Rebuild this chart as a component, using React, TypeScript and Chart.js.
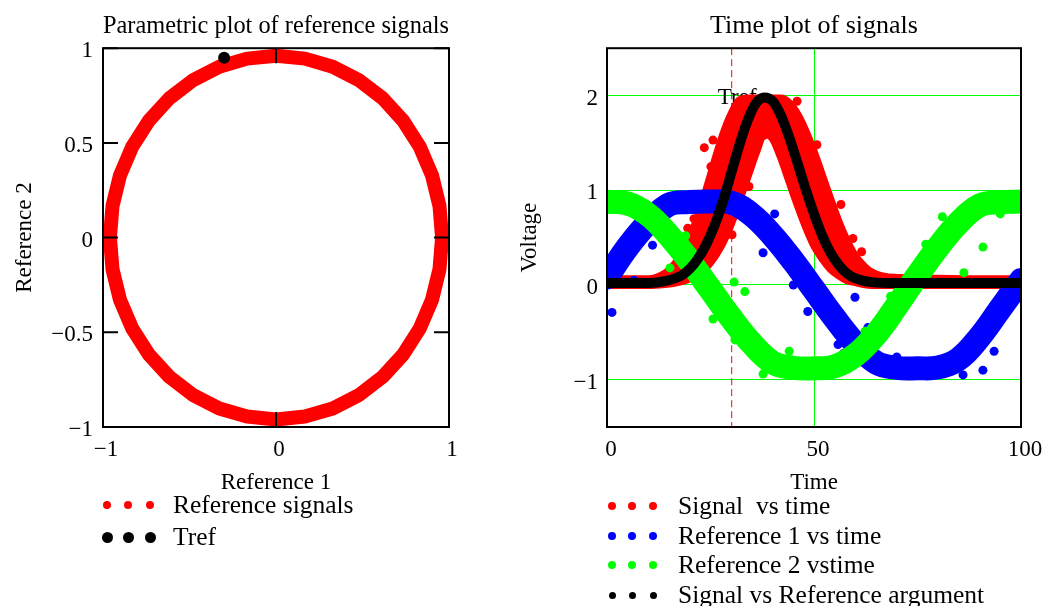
import React, { useEffect, useRef } from 'react';
import { Chart, registerables } from 'chart.js';
Chart.register(...registerables);

const FONT = '"Liberation Serif", "Times New Roman", serif';

// ---------- Left chart: parametric plot ----------
const reference1Ring = [0.96, 0.945, 0.902, 0.831, 0.735, 0.617, 0.48, 0.328, 0.167, 0, -0.167, -0.328, -0.48, -0.617, -0.735, -0.831, -0.902, -0.945, -0.96, -0.945, -0.902, -0.831, -0.735, -0.617, -0.48, -0.328, -0.167, 0, 0.167, 0.328, 0.48, 0.617, 0.735, 0.831, 0.902, 0.945, 0.96];
const reference2Ring = [0, 0.167, 0.328, 0.48, 0.617, 0.735, 0.831, 0.902, 0.945, 0.96, 0.945, 0.902, 0.831, 0.735, 0.617, 0.48, 0.328, 0.167, 0, -0.167, -0.328, -0.48, -0.617, -0.735, -0.831, -0.902, -0.945, -0.96, -0.945, -0.902, -0.831, -0.735, -0.617, -0.48, -0.328, -0.167, 0];
const trefRef1 = [-0.3];
const trefRef2 = [0.95];
const leftXTicks = [-1, 0, 1];
const leftYTicks = [-1, -0.5, 0, 0.5, 1];

// ---------- Right chart: time plot ----------
const refTime = [0, 5, 10, 15, 20, 25, 30, 35, 40, 45, 50, 55, 60, 65, 70, 75, 80, 85, 90, 95, 100];
const reference1Values = [0.08, 0.4, 0.66, 0.85, 0.875, 0.88, 0.87, 0.74, 0.52, 0.25, -0.05, -0.35, -0.62, -0.82, -0.875, -0.88, -0.87, -0.78, -0.55, -0.25, 0.05];
const reference2Values = [0.88, 0.86, 0.74, 0.52, 0.25, -0.05, -0.35, -0.62, -0.82, -0.875, -0.88, -0.86, -0.74, -0.52, -0.22, 0.1, 0.4, 0.66, 0.84, 0.875, 0.88];

const reference1OutlierTime = [55.8, 57.2, 70, 90.8, 59.9, 1.2, 37.7, 45, 97.8, 6.5, 11, 40.5, 63, 86, 93.5, 48.5];
const reference1OutlierValues = [-0.63, -0.72, -0.76, -0.9, -0.13, -0.29, 0.34, 0.0, 0.03, 0.05, 0.42, 0.75, -0.45, -0.95, -0.7, -0.28];
const reference2OutlierTime = [77, 90.8, 86.2, 74.6, 33.3, 30.7, 15.2, 25.6, 30.9, 37.7, 56.5, 62.3, 8, 19, 44, 68.5, 81, 95];
const reference2OutlierValues = [0.43, 0.4, 0.13, 0.2, -0.07, 0.03, 0.18, -0.36, -0.58, -0.94, -0.79, -0.49, 0.72, 0.52, -0.7, -0.12, 0.72, 0.75];

const signalTime = [0, 10, 14, 16, 18, 20, 22, 24, 26, 28, 30, 32, 34, 36, 38, 40, 42, 44, 46, 48, 50, 52, 54, 56, 58, 60, 62, 64, 68, 100];
const signalUpper = [0.06, 0.06, 0.12, 0.2, 0.32, 0.5, 0.72, 1.0, 1.3, 1.58, 1.8, 1.95, 1.97, 1.97, 1.97, 1.97, 1.97, 1.92, 1.8, 1.62, 1.4, 1.15, 0.9, 0.66, 0.46, 0.3, 0.2, 0.13, 0.08, 0.06];
const signalLower = [0.0, 0.0, 0.01, 0.02, 0.04, 0.07, 0.12, 0.19, 0.3, 0.45, 0.65, 0.9, 1.15, 1.4, 1.6, 1.55, 1.35, 1.1, 0.85, 0.62, 0.42, 0.28, 0.17, 0.1, 0.05, 0.03, 0.01, 0.0, 0.0, 0.0];
const signalOutlierTime = [25.6, 25.1, 34.3, 30.2, 59.4, 54.6, 50.7, 45.9, 41.8, 37.9, 19.5, 21.0, 23.5, 56.5, 61.5];
const signalOutlierValues = [1.53, 1.25, 1.04, 0.53, 0.49, 0.67, 1.48, 1.94, 1.6, 1.58, 0.6, 0.7, 1.45, 0.85, 0.35];

const signalRefTime = [0, 10, 14, 18, 20, 22, 24, 26, 28, 30, 32, 34, 36, 38, 40, 42, 44, 46, 48, 50, 52, 54, 56, 58, 60, 64, 70, 100];
const signalRefValues = [0.02, 0.02, 0.04, 0.1, 0.17, 0.28, 0.43, 0.63, 0.88, 1.18, 1.48, 1.74, 1.92, 1.98, 1.94, 1.79, 1.56, 1.29, 1.01, 0.75, 0.52, 0.34, 0.21, 0.12, 0.07, 0.03, 0.02, 0.02];

const trefTime = 30;
const rightXTicks = [0, 50, 100];
const rightYTicks = [-1, 0, 1, 2];

const pts = (xs: number[], ys: number[]) => xs.map((x, i) => ({ x, y: ys[i] }));
const fmt = (v: number) => (v < 0 ? '\u2212' + String(Math.abs(v)) : String(v));

const TICK_SIZE = 23;
const TITLE_SIZE = 26;
const AXIS_TITLE_SIZE = 23;

function framePlugin(innerTicks: boolean, xt: number[], yt: number[]) {
  return {
    id: 'frame',
    afterDatasetsDraw(chart: any) {
      const { ctx, chartArea: a, scales } = chart;
      ctx.save();
      ctx.strokeStyle = '#000';
      ctx.lineWidth = 2;
      ctx.strokeRect(a.left, a.top, a.right - a.left, a.bottom - a.top);
      if (innerTicks) {
        const L = 15;
        ctx.beginPath();
        xt.forEach((v) => {
          const px = scales.x.getPixelForValue(v);
          ctx.moveTo(px, a.top); ctx.lineTo(px, a.top + L);
          ctx.moveTo(px, a.bottom); ctx.lineTo(px, a.bottom - L);
        });
        yt.forEach((v) => {
          const py = scales.y.getPixelForValue(v);
          ctx.moveTo(a.left, py); ctx.lineTo(a.left + L, py);
          ctx.moveTo(a.right, py); ctx.lineTo(a.right - L, py);
        });
        ctx.stroke();
      }
      ctx.restore();
    },
  };
}

const trefPlugin = {
  id: 'trefMarker',
  beforeDatasetsDraw(chart: any) {
    const { ctx, chartArea: a, scales } = chart;
    const x = scales.x.getPixelForValue(trefTime);
    ctx.save();
    ctx.strokeStyle = '#ff0000';
    ctx.lineWidth = 1;
    ctx.setLineDash([7, 4]);
    ctx.beginPath();
    ctx.moveTo(x + 0.5, a.top);
    ctx.lineTo(x + 0.5, a.bottom);
    ctx.stroke();
    ctx.setLineDash([]);
    ctx.fillStyle = '#000';
    ctx.font = `${TICK_SIZE}px ${FONT}`;
    ctx.textAlign = 'center';
    ctx.textBaseline = 'middle';
    ctx.fillText('Tref', x + 6, scales.y.getPixelForValue(2) + 2);
    ctx.restore();
  },
};

function makeTicks(values: number[]) {
  return (scale: any) => {
    scale.ticks = values.map((v) => ({ value: v }));
  };
}

function leftConfig(): any {
  return {
    type: 'line',
    data: {
      datasets: [
        {
          label: 'Tref',
          data: pts(trefRef1, trefRef2),
          showLine: false,
          pointRadius: 6,
          pointBackgroundColor: '#000',
          pointBorderWidth: 0,
          order: 0,
          clip: 0,
        },
        {
          label: 'Reference signals',
          data: pts(reference1Ring, reference2Ring),
          borderColor: '#ff0000',
          borderWidth: 14,
          borderJoinStyle: 'round',
          borderCapStyle: 'round',
          pointRadius: 0,
          tension: 0,
          order: 1,
          clip: 0,
        },
      ],
    },
    options: {
      animation: false,
      responsive: true,
      maintainAspectRatio: false,
      layout: { padding: { left: 0, right: 51, top: 0, bottom: 0 } },
      plugins: {
        legend: { display: false },
        tooltip: { enabled: false },
        title: {
          display: true,
          fullSize: false,
          text: 'Parametric plot of reference signals',
          color: '#000',
          font: { family: FONT, size: TITLE_SIZE, weight: 'normal' },
          padding: { top: 11, bottom: 6 },
        },
      },
      scales: {
        x: {
          type: 'linear',
          min: -1,
          max: 1,
          afterBuildTicks: makeTicks(leftXTicks),
          afterFit: (s: any) => { s.height = 73; },
          grid: { display: false, drawTicks: false },
          border: { display: false },
          ticks: { callback: fmt, color: '#000', font: { family: FONT, size: TICK_SIZE }, padding: 9, maxRotation: 0, autoSkip: false, labelOffset: 3 },
          title: { display: true, text: 'Reference 1', color: '#000', font: { family: FONT, size: AXIS_TITLE_SIZE }, padding: { top: 0, bottom: 3 } },
        },
        y: {
          type: 'linear',
          min: -1,
          max: 1,
          afterBuildTicks: makeTicks(leftYTicks),
          afterFit: (s: any) => { s.width = 103; },
          grid: { display: false, drawTicks: false },
          border: { display: false },
          ticks: { callback: fmt, color: '#000', font: { family: FONT, size: TICK_SIZE }, padding: 10, autoSkip: false, labelOffset: 3 },
          title: { display: true, text: 'Reference 2', color: '#000', font: { family: FONT, size: AXIS_TITLE_SIZE }, padding: { top: 11, bottom: 0 } },
        },
      },
    },
    plugins: [framePlugin(true, leftXTicks, leftYTicks)],
  };
}

function rightConfig(): any {
  const band = (data: any, color: string, order: number) => ({
    data,
    borderColor: color,
    borderWidth: 24,
    borderCapStyle: 'round',
    borderJoinStyle: 'round',
    pointRadius: 0,
    tension: 0.4,
    order,
    clip: 0,
  });
  const dots = (data: any, color: string, order: number) => ({
    data,
    showLine: false,
    pointRadius: 4.5,
    pointBackgroundColor: color,
    pointBorderWidth: 0,
    order,
    clip: 0,
  });
  return {
    type: 'line',
    data: {
      datasets: [
        {
          label: 'Signal vs Reference argument',
          data: pts(signalRefTime, signalRefValues),
          borderColor: '#000',
          borderWidth: 10,
          borderCapStyle: 'round',
          borderJoinStyle: 'round',
          pointRadius: 0,
          cubicInterpolationMode: 'monotone',
          order: 0,
          clip: 0,
        },
        { label: 'Reference 2 vstime', ...band(pts(refTime, reference2Values), '#00ff00', 1) },
        { label: 'Reference 2 outliers', ...dots(pts(reference2OutlierTime, reference2OutlierValues), '#00ff00', 1) },
        { label: 'Reference 1 vs time', ...band(pts(refTime, reference1Values), '#0000ff', 2) },
        { label: 'Reference 1 outliers', ...dots(pts(reference1OutlierTime, reference1OutlierValues), '#0000ff', 2) },
        { label: 'Signal outliers', ...dots(pts(signalOutlierTime, signalOutlierValues), '#ff0000', 3) },
        {
          label: 'Signal  vs time',
          data: pts(signalTime, signalUpper),
          borderColor: '#ff0000',
          backgroundColor: '#ff0000',
          borderWidth: 8,
          borderJoinStyle: 'round',
          pointRadius: 0,
          cubicInterpolationMode: 'monotone',
          fill: '+1',
          order: 3,
          clip: 0,
        },
        {
          label: 'Signal lower',
          data: pts(signalTime, signalLower),
          borderColor: '#ff0000',
          borderWidth: 8,
          borderJoinStyle: 'round',
          pointRadius: 0,
          cubicInterpolationMode: 'monotone',
          order: 3,
          clip: 0,
        },
      ],
    },
    options: {
      animation: false,
      responsive: true,
      maintainAspectRatio: false,
      layout: { padding: { left: 0, right: 59, top: 0, bottom: 0 } },
      plugins: {
        legend: { display: false },
        tooltip: { enabled: false },
        title: {
          display: true,
          fullSize: false,
          text: 'Time plot of signals',
          color: '#000',
          font: { family: FONT, size: TITLE_SIZE, weight: 'normal' },
          padding: { top: 11, bottom: 6 },
        },
      },
      scales: {
        x: {
          type: 'linear',
          min: 0,
          max: 100,
          afterBuildTicks: makeTicks(rightXTicks),
          afterFit: (s: any) => { s.height = 73; },
          grid: { color: '#00ff00', lineWidth: 1, drawTicks: false },
          border: { display: false },
          ticks: { callback: fmt, color: '#000', font: { family: FONT, size: TICK_SIZE }, padding: 9, maxRotation: 0, autoSkip: false, labelOffset: 4 },
          title: { display: true, text: 'Time', color: '#000', font: { family: FONT, size: AXIS_TITLE_SIZE }, padding: { top: 0, bottom: 3 } },
        },
        y: {
          type: 'linear',
          min: -1.5,
          max: 2.5,
          afterBuildTicks: makeTicks(rightYTicks),
          afterFit: (s: any) => { s.width = 107; },
          grid: { color: '#00ff00', lineWidth: 1, drawTicks: false },
          border: { display: false },
          ticks: { callback: fmt, color: '#000', font: { family: FONT, size: TICK_SIZE }, padding: 9, autoSkip: false, labelOffset: 3 },
          title: { display: true, text: 'Voltage', color: '#000', font: { family: FONT, size: AXIS_TITLE_SIZE }, padding: { top: 16, bottom: 0 } },
        },
      },
    },
    plugins: [trefPlugin, framePlugin(false, rightXTicks, rightYTicks)],
  };
}

type Row = { label: string; color: string; r: number; cy: number };
const leftLegendRows: Row[] = [
  { label: 'Reference signals', color: '#ff0000', r: 4, cy: 505 },
  { label: 'Tref', color: '#000000', r: 5.5, cy: 537 },
];
const rightLegendRows: Row[] = [
  { label: 'Signal  vs time', color: '#ff0000', r: 4, cy: 506 },
  { label: 'Reference 1 vs time', color: '#0000ff', r: 4, cy: 536 },
  { label: 'Reference 2 vstime', color: '#00ff00', r: 4, cy: 565 },
  { label: 'Signal vs Reference argument', color: '#000000', r: 3.5, cy: 595 },
];

function Legend({ rows, dotX, textX }: { rows: Row[]; dotX: number[]; textX: number }) {
  return (
    <>
      {rows.map((row) => (
        <React.Fragment key={row.label}>
          {dotX.map((dx) => (
            <span
              key={dx}
              style={{
                position: 'absolute',
                left: dx - row.r,
                top: row.cy - row.r,
                width: row.r * 2,
                height: row.r * 2,
                borderRadius: '50%',
                background: row.color,
              }}
            />
          ))}
          <div
            style={{
              position: 'absolute',
              left: textX,
              top: row.cy - 15,
              height: 30,
              lineHeight: '30px',
              fontFamily: FONT,
              fontSize: 25.5,
              color: '#000',
              whiteSpace: 'pre',
            }}
          >
            {row.label}
          </div>
        </React.Fragment>
      ))}
    </>
  );
}

export default function App() {
  const leftRef = useRef<HTMLCanvasElement>(null);
  const rightRef = useRef<HTMLCanvasElement>(null);
  useEffect(() => {
    const c1 = new Chart(leftRef.current as HTMLCanvasElement, leftConfig());
    const c2 = new Chart(rightRef.current as HTMLCanvasElement, rightConfig());
    return () => {
      c1.destroy();
      c2.destroy();
    };
  }, []);
  return (
    <div style={{ position: 'fixed', left: 0, top: 0, width: 1043, height: 606, background: '#fff', overflow: 'hidden' }}>
      <div style={{ position: 'absolute', left: 0, top: 0, width: 500, height: 500 }}>
        <canvas ref={leftRef} />
      </div>
      <div style={{ position: 'absolute', left: 500, top: 0, width: 580, height: 500 }}>
        <canvas ref={rightRef} />
      </div>
      <Legend rows={leftLegendRows} dotX={[107, 128, 150]} textX={173} />
      <Legend rows={rightLegendRows} dotX={[612, 632, 653]} textX={678} />
    </div>
  );
}
